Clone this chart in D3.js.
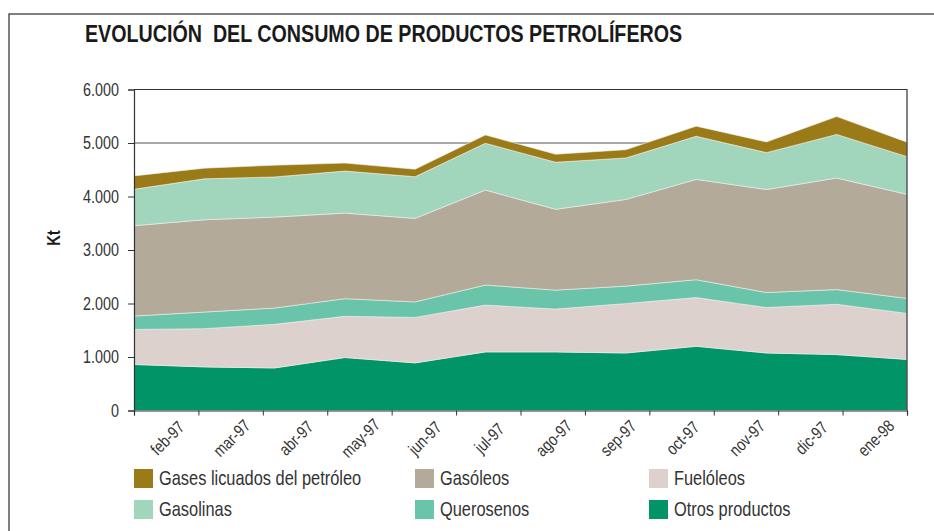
<!DOCTYPE html>
<html>
<head>
<meta charset="utf-8">
<script src="https://cdnjs.cloudflare.com/ajax/libs/d3/7.8.5/d3.min.js"></script>
<style>
  body { margin: 0; background: #fff; }
  svg text { font-family: "Liberation Sans", Arial, sans-serif; }
</style>
</head>
<body>
<div id="chart"></div>
<script>
// datos (kt por mes)
var months = ["feb-97", "mar-97", "abr-97", "may-97", "jun-97", "jul-97",
              "ago-97", "sep-97", "oct-97", "nov-97", "dic-97", "ene-98"];
var otros      = [860, 815, 795, 990, 890, 1095, 1095, 1075, 1200, 1075, 1045, 955];
var fueloleos  = [655, 715, 815, 770, 850, 875, 800, 925, 910, 850, 940, 860];
var querosenos = [250, 310, 305, 330, 290, 375, 355, 325, 335, 280, 275, 280];
var gasoleos   = [1690, 1725, 1700, 1600, 1560, 1775, 1510, 1620, 1875, 1925, 2085, 1945];
var gasolinas  = [680, 765, 750, 785, 780, 875, 880, 775, 805, 690, 815, 705];
var glp        = [250, 200, 220, 150, 140, 155, 150, 155, 190, 200, 335, 270];
var yTicks = [0, 1000, 2000, 3000, 4000, 5000, 6000];

var series = [
    {key: "otros", name: "Otros productos", color: "#009466", values: otros},
    {key: "fuel", name: "Fuelóleos", color: "#dcd1cd", values: fueloleos},
    {key: "quer", name: "Querosenos", color: "#69c4a9", values: querosenos},
    {key: "gasoleos", name: "Gasóleos", color: "#b4aa9a", values: gasoleos},
    {key: "gasolinas", name: "Gasolinas", color: "#a1d6bd", values: gasolinas},
    {key: "glp", name: "Gases licuados del petróleo", color: "#9b7b18", values: glp}
];

var width = 934, height = 531;
var plot = {left: 134, right: 907, top: 89.5, bottom: 410.5};
var narrow = 0.82;   // letra estrecha: se comprime Liberation Sans en horizontal

var svg = d3.select("#chart").append("svg")
    .attr("width", width)
    .attr("height", height);

// marco exterior
svg.append("path")
    .attr("d", "M9,531 V14 H934")
    .attr("fill", "none")
    .attr("stroke", "#555")
    .attr("stroke-width", 1.5);

svg.append("text")
    .attr("transform", "translate(85,41.5) scale(" + narrow + ",1)")
    .attr("font-size", 24)
    .attr("font-weight", "bold")
    .attr("fill", "#1a1a1a")
    .style("white-space", "pre")
    .text("EVOLUCIÓN  DEL CONSUMO DE PRODUCTOS PETROLÍFEROS");

// tabla para d3.stack
var rows = months.map(function(m, i) {
    var r = {month: m};
    series.forEach(function(s) { r[s.key] = s.values[i]; });
    return r;
});

var stacked = d3.stack().keys(series.map(function(s) { return s.key; }))(rows);

var x = d3.scalePoint().domain(months).range([plot.left, plot.right]);
var xBand = d3.scaleBand().domain(months).range([plot.left, plot.right]);
var xTicks = d3.scaleLinear().domain([0, months.length]).range([plot.left, plot.right]);
var y = d3.scaleLinear().domain([0, 6000]).range([plot.bottom, plot.top]);

// lineas de division
svg.append("g").selectAll("line")
    .data(yTicks.slice(1))
    .enter().append("line")
    .attr("x1", plot.left).attr("x2", plot.right)
    .attr("y1", function(d) { return y(d); })
    .attr("y2", function(d) { return y(d); })
    .attr("stroke", "#555")
    .attr("stroke-width", 1);

var area = d3.area()
    .x(function(d) { return x(d.data.month); })
    .y0(function(d) { return y(d[0]); })
    .y1(function(d) { return y(d[1]); });

svg.append("g").selectAll("path")
    .data(stacked)
    .enter().append("path")
    .attr("d", area)
    .attr("fill", function(d, i) { return series[i].color; })
    .attr("stroke", "#eeeeee")
    .attr("stroke-width", 0.6);

// borde del area de trazado
svg.append("path")
    .attr("d", "M" + plot.left + "," + plot.top + " H" + plot.right + " V" + plot.bottom)
    .attr("fill", "none")
    .attr("stroke", "#333")
    .attr("stroke-width", 1.2);

// eje y
var yAxis = d3.axisLeft(y)
    .tickValues(yTicks)
    .tickSize(6)
    .tickPadding(9)
    .tickFormat(function(d) { return d3.format(",")(d).replace(/,/g, "."); });

var gy = svg.append("g")
    .attr("transform", "translate(" + plot.left + ",0)")
    .call(yAxis);
gy.select(".domain").attr("stroke", "#333").attr("stroke-width", 1.2);
gy.selectAll(".tick line").attr("stroke", "#333");
gy.selectAll("text")
    .attr("font-size", 17.5)
    .attr("fill", "#333")
    .attr("font-family", "Liberation Sans, Arial, sans-serif")
    .attr("x", -15 / narrow)
    .attr("transform", "scale(" + narrow + ",1)");

svg.append("text")
    .attr("transform", "translate(60,238) rotate(-90) scale(" + narrow + ",1)")
    .attr("text-anchor", "middle")
    .attr("font-size", 18)
    .attr("font-weight", "bold")
    .attr("fill", "#1a1a1a")
    .text("Kt");

// eje x: marcas en los limites de cada mes
var xAxis = d3.axisBottom(xTicks)
    .tickValues(d3.range(months.length + 1))
    .tickSize(5)
    .tickFormat("");
var gx = svg.append("g")
    .attr("transform", "translate(0," + plot.bottom + ")")
    .call(xAxis);
gx.select(".domain").attr("stroke", "#333").attr("stroke-width", 1.2);
gx.selectAll(".tick line").attr("stroke", "#333");

svg.append("g").selectAll("text")
    .data(months)
    .enter().append("text")
    .attr("transform", function(d) {
        return "translate(" + (xBand(d) + xBand.bandwidth() / 2 + 1) + ",438) rotate(-45) scale(" + narrow + ",1)";
    })
    .attr("text-anchor", "middle")
    .attr("dominant-baseline", "central")
    .attr("font-size", 17)
    .attr("fill", "#333")
    .text(function(d) { return d; });

// leyenda
var legendOrder = ["glp", "gasoleos", "fuel", "gasolinas", "quer", "otros"];
var legendCols = [134, 415, 649];
var legendRows = [469, 500];

var legend = svg.append("g").selectAll("g")
    .data(legendOrder)
    .enter().append("g")
    .attr("transform", function(d, i) {
        return "translate(" + legendCols[i % 3] + "," + legendRows[Math.floor(i / 3)] + ")";
    });

legend.append("rect")
    .attr("width", 19)
    .attr("height", 19)
    .attr("fill", function(d) { return series.find(function(s) { return s.key == d; }).color; });

legend.append("text")
    .attr("transform", "translate(25,16) scale(" + narrow + ",1)")
    .attr("font-size", 20)
    .attr("fill", "#333")
    .text(function(d) { return series.find(function(s) { return s.key == d; }).name; });
</script>
</body>
</html>
